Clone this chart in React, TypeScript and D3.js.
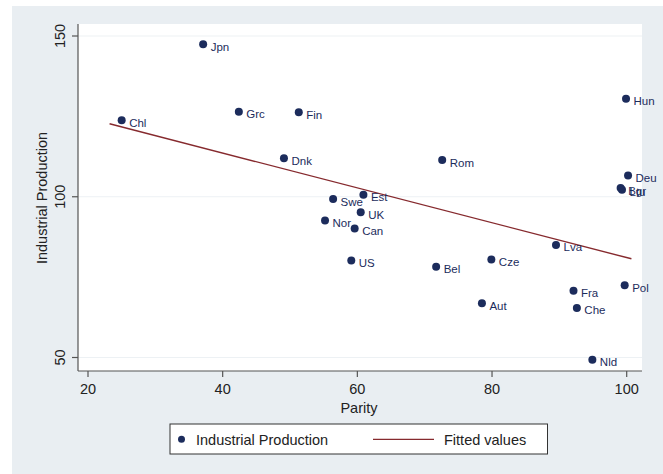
import React from "react";
import * as d3 from "d3";

// Country codes with parity score and industrial production index
const countries = ["Jpn", "Chl", "Grc", "Fin", "Dnk", "Swe", "Nor", "Est", "UK", "Can", "Rom", "Hun", "Deu", "Ltu", "Bgr", "US", "Bel", "Cze", "Lva", "Aut", "Fra", "Che", "Pol", "Nld"];
const parity = [37.1, 25.0, 42.4, 51.3, 49.1, 56.4, 55.2, 60.9, 60.5, 59.6, 72.6, 99.9, 100.2, 99.3, 99.1, 59.1, 71.7, 79.9, 89.5, 78.5, 92.1, 92.6, 99.7, 94.9];
const production = [147.4, 123.8, 126.4, 126.3, 112.0, 99.3, 92.6, 100.6, 95.2, 90.1, 111.4, 130.5, 106.6, 102.2, 102.7, 80.2, 78.2, 80.5, 85.0, 66.9, 70.8, 65.4, 72.5, 49.3];

// Linear fit endpoints
const fitParity = [23.2, 100.7];
const fitValues = [122.7, 80.7];

const xTicks = [20, 40, 60, 80, 100];
const yTicks = [50, 100, 150];

const W = 663;
const H = 474;
const plot = { left: 78, right: 642, top: 24, bottom: 371 };

const navy = "#1c2c5c";
const maroon = "#862a2e";
const font = "'Liberation Sans', Arial, Helvetica, sans-serif";

export default function App() {
  const x = d3.scaleLinear().domain([20, 100]).range([88, 626.7]);
  const y = d3.scaleLinear().domain([50, 150]).range([357.5, 36]);

  const line = d3
    .line<number>()
    .x((d) => x(d))
    .y((_, i) => y(fitValues[i]));

  return (
    <svg
      width={W}
      height={H}
      style={{ position: "absolute", left: 0, top: 0, background: "#fff" }}
      fontFamily={font}
    >
      <rect x={12} y={6} width={W - 12} height={H - 6} fill="#e9eef2" />
      <rect x={plot.left} y={plot.top} width={plot.right - plot.left} height={plot.bottom - plot.top} fill="#ffffff" />

      {yTicks.map((t) => (
        <line key={"g" + t} x1={plot.left} x2={plot.right} y1={y(t)} y2={y(t)} stroke="#edf1f4" strokeWidth={1.2} />
      ))}

      {/* axes */}
      <line x1={plot.left} x2={plot.left} y1={plot.top} y2={plot.bottom} stroke="#555" strokeWidth={1.2} />
      <line x1={plot.left} x2={plot.right} y1={plot.bottom} y2={plot.bottom} stroke="#555" strokeWidth={1.2} />

      {yTicks.map((t) => (
        <g key={"y" + t}>
          <line x1={plot.left - 6} x2={plot.left} y1={y(t)} y2={y(t)} stroke="#555" strokeWidth={1.2} />
          <text
            transform={`translate(65,${y(t)}) rotate(-90)`}
            textAnchor="middle"
            fontSize={14.5}
            fill="#222"
          >
            {t}
          </text>
        </g>
      ))}

      {xTicks.map((t) => (
        <g key={"x" + t}>
          <line x1={x(t)} x2={x(t)} y1={plot.bottom} y2={plot.bottom + 6} stroke="#555" strokeWidth={1.2} />
          <text x={x(t)} y={393.5} textAnchor="middle" fontSize={14.5} fill="#222">
            {t}
          </text>
        </g>
      ))}

      <text x={359} y={412.5} textAnchor="middle" fontSize={14.5} fill="#222">
        Parity
      </text>
      <text transform="translate(47,198) rotate(-90)" textAnchor="middle" fontSize={14.5} fill="#222">
        Industrial Production
      </text>

      {/* fitted line */}
      <path d={line(fitParity) ?? ""} fill="none" stroke={maroon} strokeWidth={1.4} />

      {/* points and labels */}
      {countries.map((c, i) => (
        <g key={c}>
          <circle cx={x(parity[i])} cy={y(production[i])} r={4} fill={navy} />
          <text x={x(parity[i]) + 7.5} y={y(production[i]) + 6.5} fontSize={11.5} fill={navy}>
            {c}
          </text>
        </g>
      ))}

      {/* legend */}
      <rect x={170} y={424} width={377.5} height={30} fill="#fff" stroke="#333" strokeWidth={1} />
      <circle cx={181.5} cy={439.3} r={3.5} fill={navy} />
      <text x={196} y={445} fontSize={14.5} fill="#222">
        Industrial Production
      </text>
      <line x1={373} x2={434} y1={439.3} y2={439.3} stroke={maroon} strokeWidth={1.2} />
      <text x={444} y={445} fontSize={14.5} fill="#222">
        Fitted values
      </text>
    </svg>
  );
}
